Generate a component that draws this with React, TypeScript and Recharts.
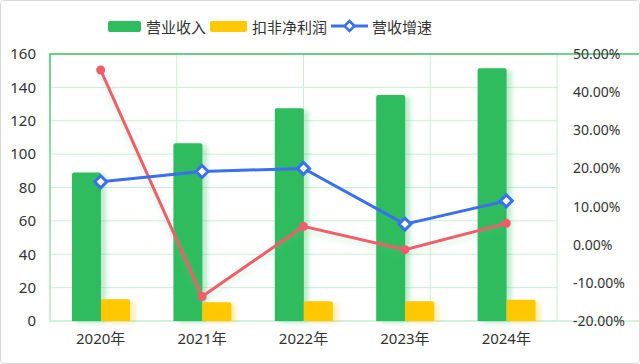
import React from 'react';
import { ComposedChart, Bar, Line, XAxis, YAxis, CartesianGrid, ReferenceArea } from 'recharts';

const years = ['2020年', '2021年', '2022年', '2023年', '2024年'];
const revenue = [89, 106.5, 127.5, 135.5, 151.5];
const netProfit = [13, 11.3, 11.8, 11.8, 12.8];
const revenueGrowth = [16.5, 19.2, 20.0, 5.4, 11.5];
const profitGrowth = [45.8, -13.6, 4.8, -1.3, 5.6];
const leftTicks = [0, 20, 40, 60, 80, 100, 120, 140, 160];
const rightTicks = [-20, -10, 0, 10, 20, 30, 40, 50];
const gridTicks = [0, 1, 2, 3, 4, 5, 6, 7, 8, 9, 10];

const data = years.map((y, i) => ({
  year: y,
  revenue: revenue[i],
  netProfit: netProfit[i],
  revenueGrowth: revenueGrowth[i],
  profitGrowth: profitGrowth[i],
}));

const GREEN = '#2ebc5e';
const YELLOW = '#ffc800';
const BLUE = '#3a6ff0';
const RED = '#f45b69';
const FONT = '"Noto Sans", "Noto Sans CJK SC", sans-serif';

const Diamond = (props: any) => {
  const { cx, cy, index } = props;
  const r = 6;
  return (
    <polygon
      key={`d-${index}`}
      points={`${cx},${cy - r} ${cx + r},${cy} ${cx},${cy + r} ${cx - r},${cy}`}
      fill="#fff"
      stroke={BLUE}
      strokeWidth={3}
    />
  );
};

const RedDot = (props: any) => {
  const { cx, cy, index } = props;
  return <circle key={`r-${index}`} cx={cx} cy={cy} r={4.5} fill={RED} />;
};

const legendItems = [
  { label: '营业收入', kind: 'green' },
  { label: '扣非净利润', kind: 'yellow' },
  { label: '营收增速', kind: 'line' },
];

const Legend = () => (
  <div
    style={{
      position: 'absolute',
      top: 14,
      left: 107,
      display: 'flex',
      alignItems: 'center',
      fontFamily: FONT,
      fontSize: 15,
      color: '#333',
      height: 22,
    }}
  >
    {legendItems.map((it) => (
      <div key={it.label} style={{ display: 'flex', alignItems: 'center', marginRight: 4 }}>
        {it.kind === 'line' ? (
          <svg width={37} height={14} style={{ marginRight: 4 }}>
            <line x1={0} y1={7} x2={37} y2={7} stroke={BLUE} strokeWidth={3} />
            <polygon points="18.5,2 23.5,7 18.5,12 13.5,7" fill="#fff" stroke={BLUE} strokeWidth={2.5} />
          </svg>
        ) : (
          <div
            style={{
              width: it.kind === 'green' ? 33 : 37,
              height: 11,
              borderRadius: 2,
              background: it.kind === 'green' ? GREEN : YELLOW,
              marginRight: 5,
            }}
          />
        )}
        <span>{it.label}</span>
      </div>
    ))}
  </div>
);

export default function App() {
  return (
    <div
      style={{
        position: 'absolute',
        left: 0,
        top: 0,
        width: 640,
        height: 364,
        background: '#fff',
        boxSizing: 'border-box',
        border: '1px solid #d8d8d8',
        borderRadius: 4,
        overflow: 'hidden',
      }}
    >
      <div style={{ position: 'absolute', left: -1, top: -1 }}>
        <ComposedChart
          width={640}
          height={364}
          data={data}
          margin={{ top: 54, right: 0, bottom: 13, left: 0 }}
          barGap={0}
          barSize={29}
        >
          <defs>
            <linearGradient id="borderGrad" x1="0" y1="0" x2="0" y2="1">
              <stop offset="0%" stopColor="#3fc26c" />
              <stop offset="100%" stopColor="#c8eed5" />
            </linearGradient>
            <filter id="shadowG" x="-30%" y="-10%" width="170%" height="120%">
              <feDropShadow dx={5} dy={2} stdDeviation={2} floodColor="#2ebc5e" floodOpacity={0.3} />
            </filter>
            <filter id="shadowY" x="-30%" y="-10%" width="170%" height="130%">
              <feDropShadow dx={5} dy={2} stdDeviation={2} floodColor="#ffc800" floodOpacity={0.3} />
            </filter>
            <filter id="shadowL" x="-10%" y="-10%" width="120%" height="130%">
              <feDropShadow dx={0} dy={4} stdDeviation={3} floodColor="#6fcf8a" floodOpacity={0.3} />
            </filter>
          </defs>
          <XAxis
            dataKey="year"
            xAxisId="cat"
            axisLine={false}
            tickLine={false}
            height={30}
            tickMargin={6}
            tick={{ fill: '#333', fontSize: 15, fontFamily: FONT }}
          />
          <XAxis
            xAxisId="grid"
            type="number"
            domain={[0, 10]}
            ticks={gridTicks}
            hide
          />
          <YAxis
            yAxisId="left"
            domain={[0, 160]}
            ticks={leftTicks}
            width={50}
            axisLine={false}
            tickLine={false}
            tickMargin={8}
            tick={{ fill: '#333', fontSize: 15, fontFamily: FONT }}
          />
          <YAxis
            yAxisId="right"
            orientation="right"
            domain={[-20, 50]}
            ticks={rightTicks}
            width={83}
            axisLine={false}
            tickLine={false}
            tickMargin={10}
            tickFormatter={(v: number) => `${v.toFixed(2)}%`}
            tick={{ fill: '#333', fontSize: 14, fontFamily: FONT }}
          />
          <CartesianGrid xAxisId="grid" yAxisId="left" stroke="#c9eed6" strokeWidth={1} />
          <ReferenceArea
            xAxisId="grid"
            yAxisId="left"
            x1={0}
            x2={10}
            y1={0}
            y2={160}
            fill="none"
            stroke="url(#borderGrad)"
            strokeWidth={1.5}
            ifOverflow="extendDomain"
          />
          <Bar
            xAxisId="cat"
            yAxisId="left"
            dataKey="revenue"
            fill={GREEN}
            radius={[2, 2, 0, 0]}
            filter="url(#shadowG)"
            isAnimationActive={false}
          />
          <Bar
            xAxisId="cat"
            yAxisId="left"
            dataKey="netProfit"
            fill={YELLOW}
            radius={[2, 2, 0, 0]}
            filter="url(#shadowY)"
            isAnimationActive={false}
          />
          <Line
            xAxisId="cat"
            yAxisId="right"
            dataKey="profitGrowth"
            stroke={RED}
            strokeWidth={3}
            dot={RedDot}
            activeDot={false}
            filter="url(#shadowL)"
            isAnimationActive={false}
          />
          <Line
            xAxisId="cat"
            yAxisId="right"
            dataKey="revenueGrowth"
            stroke={BLUE}
            strokeWidth={3}
            dot={Diamond}
            activeDot={false}
            isAnimationActive={false}
          />
        </ComposedChart>
      </div>
      <Legend />
    </div>
  );
}
